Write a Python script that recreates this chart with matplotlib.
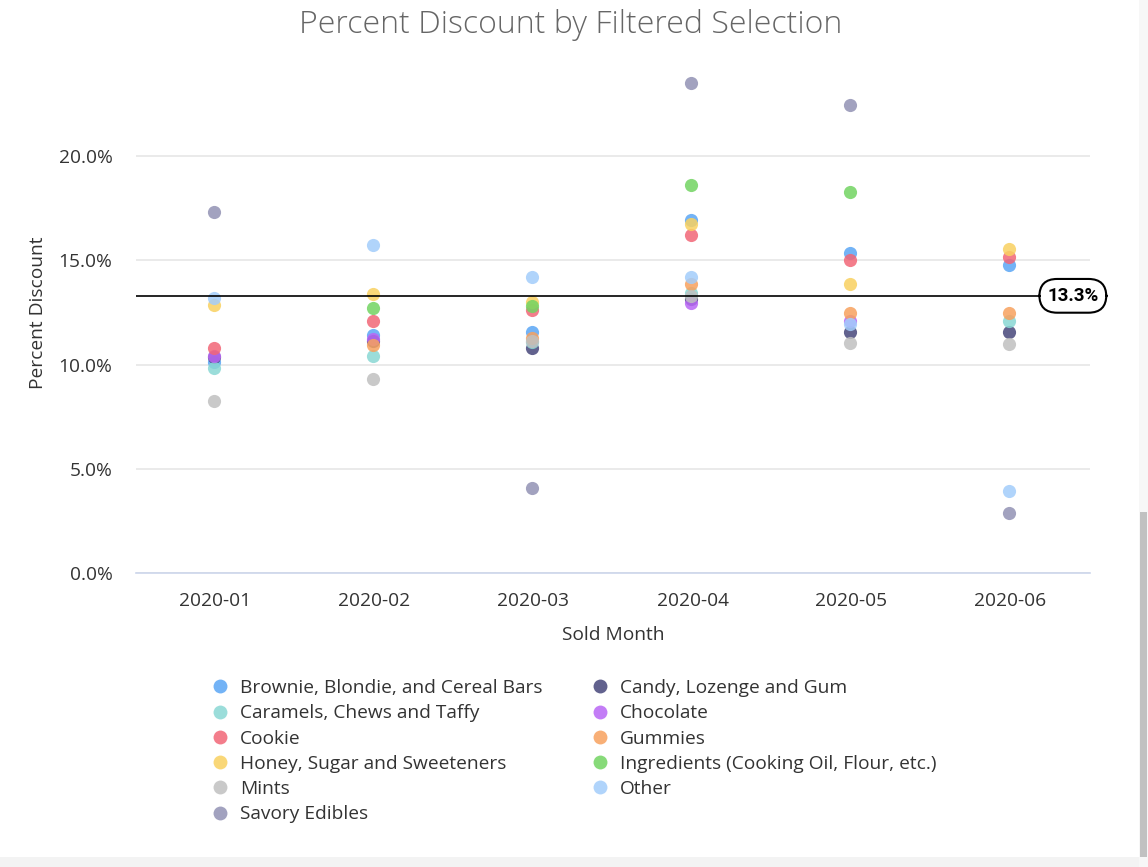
import numpy as np
import matplotlib
matplotlib.use("Agg")
import matplotlib.pyplot as plt
from matplotlib.lines import Line2D
from matplotlib.patches import Rectangle

plt.rcParams['font.family'] = ['Open Sans', 'DejaVu Sans']

months = ["2020-01", "2020-02", "2020-03", "2020-04", "2020-05", "2020-06"]
nan = np.nan

series_names = [
    "Brownie, Blondie, and Cereal Bars",
    "Candy, Lozenge and Gum",
    "Caramels, Chews and Taffy",
    "Chocolate",
    "Cookie",
    "Gummies",
    "Honey, Sugar and Sweeteners",
    "Ingredients (Cooking Oil, Flour, etc.)",
    "Mints",
    "Other",
    "Savory Edibles",
]

brownie     = [10.14, 11.41, 11.57, 16.93, 15.36, 14.77]
candy       = [10.37, 11.15, 10.78, 13.17, 11.57, 11.57]
caramels    = [9.85, 10.41, 11.10, 13.45, nan, 12.10]
chocolate   = [10.42, 11.25, nan, 12.96, 12.10, nan]
cookie      = [10.81, 12.10, 12.60, 16.24, 15.01, 15.17]
gummies     = [nan, 10.94, 11.30, 13.89, 12.49, 12.49]
honey       = [12.85, 13.37, 13.00, 16.74, 13.86, 15.57]
ingredients = [nan, 12.73, 12.80, 18.61, 18.26, nan]
mints       = [8.25, 9.32, 11.15, 13.30, 11.05, 10.98]
other       = [13.20, 15.76, 14.18, 14.18, 11.95, 3.93]
savory      = [17.31, nan, 4.08, 23.53, 22.45, 2.88]

series_values = [brownie, candy, caramels, chocolate, cookie, gummies,
                 honey, ingredients, mints, other, savory]

colors = ["#5aa6f5", "#46467a", "#8ad8d4", "#b966f5", "#f26677", "#f7a15e",
          "#f9d160", "#72d462", "#c0c0c0", "#a3cdfb", "#9292b4"]

mean_value = 13.3
mean_label = "13.3%"

fig = plt.figure(figsize=(11.48, 8.67), dpi=100)
fig.patch.set_facecolor("white")

ax = fig.add_axes([136/1148, 1-573/867, 954/1148, (573-52)/867])
ax.set_facecolor("white")

x = np.arange(len(months))
for name, vals, c in zip(series_names, series_values, colors):
    ax.scatter(x - 0.012, vals, s=90, color=c, alpha=0.85, linewidths=0, zorder=3, label=name)

ax.set_xlim(-0.5, len(months) - 0.5)
ax.set_ylim(0, 25)
ax.set_yticks([0, 5, 10, 15, 20])
ax.set_yticklabels([f"{v:.1f}%" for v in [0, 5, 10, 15, 20]])
ax.set_xticks(x)
ax.set_xticklabels(months)
ax.grid(axis='y', color="#e6e6e6", linewidth=1.2, zorder=0)
ax.set_axisbelow(True)
for s in ['top', 'right', 'left']:
    ax.spines[s].set_visible(False)
ax.spines['bottom'].set_color("#ccd6eb")
ax.spines['bottom'].set_linewidth(1.2)
ax.tick_params(axis='both', length=0, labelsize=13.8, colors="#333333")
ax.tick_params(axis='x', pad=14)
ax.tick_params(axis='y', pad=17)

ax.set_xlabel("Sold Month", fontsize=13.8, color="#333333", labelpad=11)
ax.set_ylabel("Percent Discount", fontsize=13.8, color="#333333", labelpad=8)

ax.axhline(mean_value, color="black", linewidth=1.2, zorder=4)
ax.text(0.982, mean_value, mean_label, transform=ax.get_yaxis_transform(),
        ha='center', va='center', fontsize=13.5, fontweight='bold', color="black",
        family=['Roboto', 'DejaVu Sans'],
        zorder=6, clip_on=False,
        bbox=dict(boxstyle="round,pad=0.42,rounding_size=0.95", fc="white", ec="black", lw=1.5))

fig.text(571/1148, 1-25/867, "Percent Discount by Filtered Selection",
         ha='center', va='center', fontsize=23, color="#666666", fontweight='light')

# Legend: alphabetical row-wise in 2 columns (reorder for column-wise filling)
handles = [Line2D([0], [0], marker='o', linestyle='', markersize=10,
                  markerfacecolor=c, markeredgewidth=0, alpha=0.85)
           for c in colors]
col1 = [0, 2, 4, 6, 8, 10]
col2 = [1, 3, 5, 7, 9]
order = col1 + col2
leg = fig.legend([handles[i] for i in order], [series_names[i] for i in order],
                 ncol=2, loc='upper left', bbox_to_anchor=(210/1148, 1-679/867),
                 frameon=False, fontsize=13.8, labelcolor="#333333",
                 handletextpad=0.55, columnspacing=2.5, labelspacing=0.38,
                 handlelength=1.0, borderaxespad=0, borderpad=0)

# page chrome (scrollbar & bottom border)
fig.patches.append(Rectangle((1139/1148, 0), 9/1148, 1, transform=fig.transFigure,
                             fc="#f7f7f7", ec='none', zorder=0))
fig.patches.append(Rectangle((1140/1148, 10/867), 7/1148, 345/867, transform=fig.transFigure,
                             fc="#c1c1c1", ec='none', zorder=1))
fig.patches.append(Rectangle((0, 0), 1139/1148, 10/867, transform=fig.transFigure,
                             fc="#f3f3f3", ec='none', zorder=0))

fig.savefig("out.png", dpi=100, facecolor="white")
